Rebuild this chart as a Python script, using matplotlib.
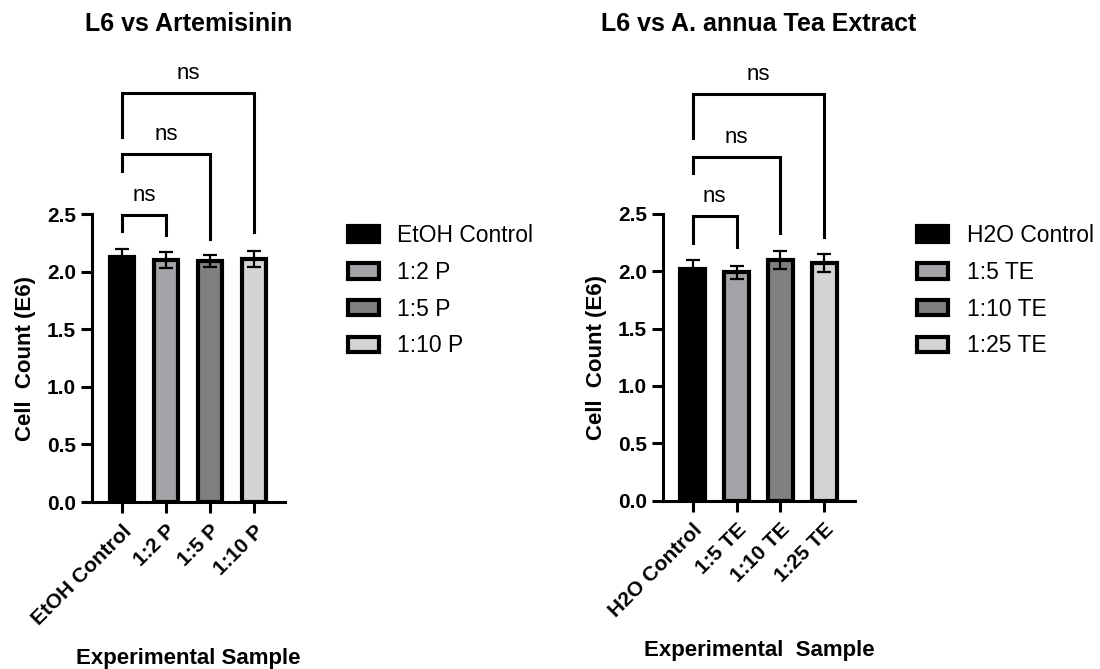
import matplotlib
matplotlib.use('Agg')
import matplotlib.pyplot as plt
import numpy as np

plt.rcParams['font.family'] = ['Liberation Sans', 'DejaVu Sans']

# panel 1: artemisinin
art_labels = ['EtOH Control', '1:2 P', '1:5 P', '1:10 P']
art_means = [2.13, 2.10, 2.09, 2.11]
art_sd = [0.065, 0.07, 0.05, 0.07]
art_title = 'L6 vs Artemisinin'
art_xlabel = 'Experimental Sample'
# (bar a, bar b, bracket height, left leg end, right leg end)
art_brackets = [(0, 1, 2.49, 2.35, 2.32),
                (0, 2, 3.02, 2.87, 2.28),
                (0, 3, 3.55, 3.17, 2.34)]

# panel 2: A. annua tea extract
tea_labels = ['H2O Control', '1:5 TE', '1:10 TE', '1:25 TE']
tea_means = [2.02, 1.99, 2.10, 2.07]
tea_sd = [0.08, 0.06, 0.08, 0.08]
tea_title = 'L6 vs A. annua Tea Extract'
tea_xlabel = 'Experimental  Sample'
tea_brackets = [(0, 1, 2.48, 2.25, 2.21),
                (0, 2, 3.00, 2.86, 2.33),
                (0, 3, 3.55, 3.16, 2.30)]

colors = ['#000000', '#a3a3a8', '#808080', '#d4d4d4']


def draw_panel(fig, rect, labels, means, sd, brackets, title, xlabel, leg_pos):
    ax = fig.add_axes(rect)
    x = np.arange(len(labels))
    bars = ax.bar(x, means, width=0.56, color=colors, edgecolor='black',
                  linewidth=3, zorder=2, label=labels)
    ax.errorbar(x, means, yerr=sd, fmt='none', ecolor='black', elinewidth=1.6,
                capsize=5, capthick=1.6, zorder=3)
    ax.set_xlim(-0.68, 3.7)
    ax.set_ylim(0, 2.5)
    ax.set_yticks([0, 0.5, 1.0, 1.5, 2.0, 2.5])
    ax.set_yticklabels(['%.1f' % v for v in [0, 0.5, 1.0, 1.5, 2.0, 2.5]],
                       fontsize=15, fontweight='bold')
    ax.set_xticks(x)
    ax.set_xticklabels(labels, rotation=45, ha='right', rotation_mode='anchor',
                       fontsize=15, fontweight='bold')
    for s in ['top', 'right']:
        ax.spines[s].set_visible(False)
    for s in ['left', 'bottom']:
        ax.spines[s].set_linewidth(2.2)
    ax.tick_params(width=2.2, length=8)
    ax.tick_params(axis='x', pad=6)
    ax.set_ylabel('Cell  Count (E6)', fontsize=16, fontweight='bold', labelpad=8)
    ax.set_xlabel(xlabel, fontsize=16, fontweight='bold', labelpad=14)
    ax.set_title(title, fontsize=18, fontweight='bold', pad=132)

    for a, b, h, la, lb in brackets:
        ax.plot([a, a, b, b], [la, h, h, lb], color='black', lw=2.2,
                clip_on=False, solid_joinstyle='miter', zorder=4)
        ax.text((a + b) / 2, h + 0.17, 'ns', ha='center', va='center',
                fontsize=16)

    fig.legend(handles=bars.patches, labels=labels, loc='upper left',
               bbox_to_anchor=leg_pos, frameon=False, fontsize=16.5,
               handlelength=1.35, handleheight=0.66, labelspacing=0.6,
               handletextpad=0.8, borderpad=0, borderaxespad=0)
    return ax


fig = plt.figure(figsize=(11, 6.69), dpi=100)
draw_panel(fig, [0.0836, 0.2496, 0.1755, 0.4305], art_labels, art_means,
           art_sd, art_brackets, art_title, art_xlabel, (0.316, 0.665))
draw_panel(fig, [0.6027, 0.2516, 0.1745, 0.4286], tea_labels, tea_means,
           tea_sd, tea_brackets, tea_title, tea_xlabel, (0.834, 0.665))

plt.savefig('out.png', dpi=100)
